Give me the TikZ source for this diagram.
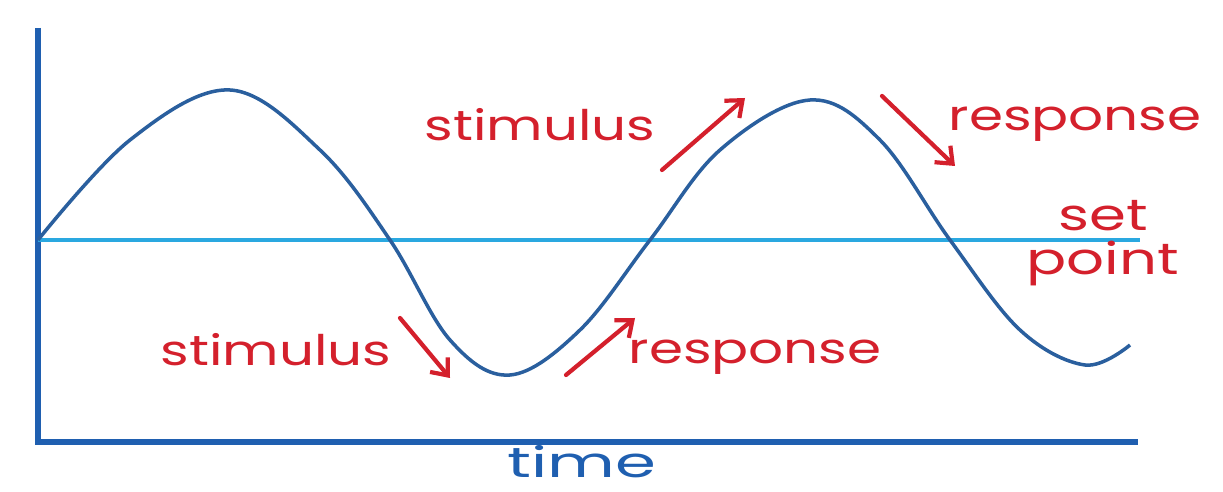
\documentclass[tikz,border=0pt]{standalone}
\usepackage{fontspec}
\newfontfamily\handfont{Poppins}
\usetikzlibrary{arrows.meta}
\definecolor{axisblue}{HTML}{1F5FB0}
\definecolor{waveblue}{HTML}{2A5F9E}
\definecolor{setblue}{HTML}{2AA8E0}
\definecolor{notered}{HTML}{D4202C}
\tikzset{
  note/.style={text=notered, font=\handfont\fontsize{24}{28}\selectfont, xscale=1.3, inner sep=0pt},
  notearrow/.style={draw=notered, line width=2.4pt, line cap=round, -{Straight Barb[length=8pt,width=13pt,line width=2.4pt]}}
}
\begin{document}
\begin{tikzpicture}[x=0.02cm,y=-0.02cm]
\useasboundingbox (0,0) rectangle (1223,492);

% axes and set point
\coordinate (origin) at (38,442);
\coordinate (ytop) at (38,28);
\coordinate (xend) at (1138,442);
\draw[axisblue, line width=3pt] (ytop) -- (origin) -- (xend);
\coordinate (setleft) at (38,240);
\coordinate (setright) at (1140,240);
\draw[setblue, line width=2.2pt] (setleft) -- (setright);

% the wave
\draw[waveblue, line width=2pt] plot[smooth, tension=0.6] coordinates
  {(38,240) (130,140) (230,90) (320,150) (390,240) (450,340) (510,375)
   (580,330) (650,240) (720,150) (810,100) (880,140) (950,240) (1020,330)
   (1085,365) (1130,345)};

% labels
\node[note] (stimtop) at (540,125) {stimulus};
\node[note] (resptop) at (1075,124) {response};
\node[note, align=center, xscale=1.04, font=\handfont\fontsize{25}{25}\selectfont] (setpt) at (1103,243) {set\\point};
\node[note] (stimbot) at (276,350) {stimulus};
\node[note] (respbot) at (755,357) {response};
\node[note, text=axisblue, xscale=1.2, font=\handfont\fontsize{24}{24}\selectfont] (timelbl) at (582,462) {time};

% arrows
\coordinate (a1s) at (662,170); \coordinate (a1e) at (745,98);
\coordinate (a2s) at (882,96);  \coordinate (a2e) at (955,166);
\coordinate (a3s) at (400,318); \coordinate (a3e) at (450,378);
\coordinate (a4s) at (566,375); \coordinate (a4e) at (635,318);
\draw[notearrow] (a1s) -- (a1e);
\draw[notearrow] (a2s) -- (a2e);
\draw[notearrow] (a3s) -- (a3e);
\draw[notearrow] (a4s) -- (a4e);
\end{tikzpicture}
\end{document}
